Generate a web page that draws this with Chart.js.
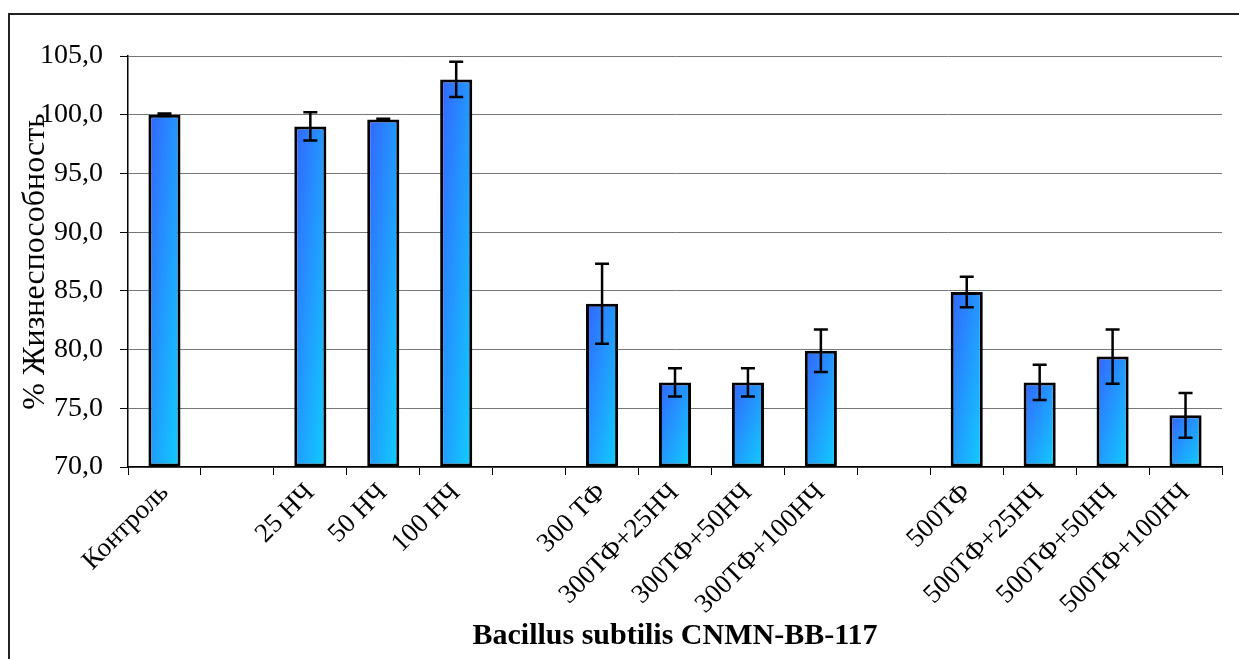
<!DOCTYPE html>
<html>
<head>
<meta charset="utf-8">
<script src="https://cdn.jsdelivr.net/npm/chart.js@4/dist/chart.umd.min.js"></script>
<style>
  html, body { margin: 0; padding: 0; background: #fff; overflow: hidden; }
  #wrap { position: relative; width: 1239px; height: 659px; }
  #frame { position: absolute; left: 8px; top: 13px; width: 1240px; height: 660px; border: 2px solid #222; pointer-events: none; }
</style>
</head>
<body>
<div id="wrap">
  <canvas id="chart" width="1239" height="659"></canvas>
  <div id="frame"></div>
</div>
<script>
const categories = ['Контроль', '', '25 НЧ', '50 НЧ', '100 НЧ', '', '300 ТФ', '300ТФ+25НЧ', '300ТФ+50НЧ', '300ТФ+100НЧ', '', '500ТФ', '500ТФ+25НЧ', '500ТФ+50НЧ', '500ТФ+100НЧ'];
const values = [100.0, null, 99.0, 99.6, 103.0, null, 83.9, 77.2, 77.2, 79.9, null, 84.9, 77.2, 79.4, 74.4];
const errors = [0.1, null, 1.2, 0.05, 1.5, null, 3.4, 1.2, 1.2, 1.8, null, 1.3, 1.5, 2.3, 1.9];
const yMin = 70, yMax = 105, yStep = 5;

const serif = "'Liberation Serif', 'Times New Roman', serif";

// error bars drawn through the scales
const errorBars = {
  id: 'errorBars',
  afterDatasetsDraw(chart) {
    const ctx = chart.ctx, xs = chart.scales.x, ys = chart.scales.y;
    ctx.save();
    ctx.strokeStyle = '#000';
    ctx.lineWidth = 2.5;
    values.forEach((v, i) => {
      if (v == null || errors[i] == null) return;
      const px = xs.getPixelForValue(i);
      const hi = ys.getPixelForValue(v + errors[i]);
      const lo = ys.getPixelForValue(v - errors[i]);
      ctx.beginPath();
      ctx.moveTo(px, hi); ctx.lineTo(px, lo);
      ctx.moveTo(px - 7, hi); ctx.lineTo(px + 7, hi);
      ctx.moveTo(px - 7, lo); ctx.lineTo(px + 7, lo);
      ctx.stroke();
    });
    ctx.restore();
  }
};

// diagonal gradient scaled to each bar's box (top-left blue -> bottom-right cyan)
function barGradient(c) {
  const ch = c.chart;
  if (!ch.chartArea || c.raw == null) return '#2a90ff';
  const xs = ch.scales.x, ys = ch.scales.y;
  const px = xs.getPixelForValue(c.dataIndex);
  const top = ys.getPixelForValue(c.raw), bot = ys.getPixelForValue(yMin);
  const w = 32, h = Math.max(bot - top, 1);
  const ux = 1 / (2 * w), uy = 1 / (2 * h), n = ux * ux + uy * uy;
  const x0 = px - w / 2;
  const g = ch.ctx.createLinearGradient(x0, top, x0 + ux / n, top + uy / n);
  g.addColorStop(0, '#3464ff');
  g.addColorStop(1, '#0fcfff');
  return g;
}

new Chart(document.getElementById('chart'), {
  type: 'bar',
  data: {
    labels: categories,
    datasets: [{
      data: values,
      base: yMin,
      backgroundColor: barGradient,
      borderColor: '#000',
      borderWidth: 3,
      borderSkipped: false,
      barPercentage: 0.44,
      categoryPercentage: 1
    }]
  },
  options: {
    responsive: false,
    animation: false,
    layout: { padding: { left: 16, top: 56, right: 17, bottom: 4 } },
    plugins: {
      legend: { display: false },
      tooltip: { enabled: false }
    },
    scales: {
      x: {
        afterFit: s => { s.height = 188; },
        grid: { drawOnChartArea: false, drawTicks: true, tickLength: 8, color: '#000', offset: true },
        border: { color: '#000', width: 1.5 },
        ticks: {
          color: '#000',
          font: { family: serif, size: 27 },
          minRotation: 45, maxRotation: 45,
          autoSkip: false,
          padding: 2
        },
        title: {
          display: true,
          text: 'Bacillus subtilis CNMN-BB-117',
          color: '#000',
          font: { family: serif, size: 30, weight: 'bold' },
          padding: { top: 0, bottom: 1 }
        }
      },
      y: {
        min: yMin, max: yMax,
        afterFit: s => { s.width = 112; },
        grid: { color: '#777', lineWidth: 1, tickLength: 8, tickColor: '#000' },
        border: { color: '#000', width: 1.5 },
        ticks: {
          stepSize: yStep,
          color: '#000',
          font: { family: serif, size: 28 },
          padding: 17,
          callback: v => v.toFixed(1).replace('.', ',')
        },
        title: {
          display: true,
          text: '% Жизнеспособность',
          color: '#000',
          font: { family: serif, size: 32 },
          padding: { top: 0, bottom: 0 }
        }
      }
    }
  },
  plugins: [errorBars]
});
</script>
</body>
</html>
